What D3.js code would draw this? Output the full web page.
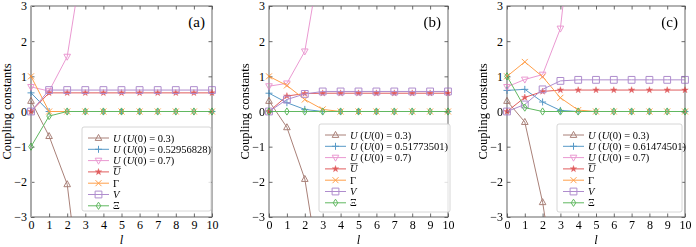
<!DOCTYPE html>
<html><head><meta charset="utf-8">
<script src="https://cdn.jsdelivr.net/npm/d3@7"></script>
<style>body{margin:0;background:#fff}svg{display:block}text{font-family:"Liberation Serif","Times New Roman",serif;fill:#000}</style>
</head><body>
<svg id="c" width="696" height="247"></svg>
<script>
// ---- data ----
const steps = [0,1,2,3,4,5,6,7,8,9,10];
const xTicks = [0,1,2,3,4,5,6,7,8,9,10];
const yTicks = [-3,-2,-1,0,1,2,3];
const panelLabels = ["(a)","(b)","(c)"];
const criticalU0 = ["0.52956828","0.51773501","0.61474501"];

// panel (a)
const aU03  = [0.3,-0.7,-2.07,-6.3];
const aUc   = [0.53,0,0,0,0,0,0,0,0,0,0];
const aU07  = [0.7,0.58,1.56,4.8];
const aUbar = [0,0.53,0.53,0.53,0.53,0.53,0.53,0.53,0.53,0.53,0.53];
const aGam  = [1.0,0,0,0,0,0,0,0,0,0,0];
const aV    = [0,0.61,0.61,0.61,0.61,0.61,0.61,0.61,0.61,0.61,0.61];
const aXi   = [-1.0,-0.13,0,0,0,0,0,0,0,0,0];
// panel (b)
const bU03  = [0.3,-0.45,-1.92,-5.1];
const bUc   = [0.52,0.25,0.06,0,0,0,0,0,0,0,0];
const bU07  = [0.72,0.8,1.71,4.7];
const bUbar = [0,0.44,0.51,0.52,0.52,0.52,0.52,0.52,0.52,0.52,0.52];
const bGam  = [1.0,0.74,0.34,0.06,0,0,0,0,0,0,0];
const bV    = [0,0.34,0.5,0.57,0.57,0.57,0.57,0.57,0.57,0.57,0.57];
const bXi   = [0,0,0,0,0,0,0,0,0,0,0];
// panel (c)
const cU03  = [0.3,-0.3,-2.58,-5.8];
const cUc   = [0.6,0.63,0.27,0.03,0,0,0,0,0,0,0];
const cU07  = [0.7,0.91,1.05,2.36,6.9];
const cUbar = [0,0.4,0.57,0.61,0.61,0.61,0.61,0.61,0.61,0.61,0.61];
const cGam  = [1.0,1.41,0.99,0.39,0.04,0,0,0,0,0,0];
const cV    = [0,0.2,0.63,0.87,0.9,0.9,0.9,0.9,0.9,0.9,0.9];
const cXi   = [1.0,0.11,0,0,0,0,0,0,0,0,0];

const seriesColors = ["#8c564b","#1f77b4","#e377c2","#d62728","#ff7f0e","#9467bd","#2ca02c"];
const seriesMarkers = ["tri","plus","trid","star","x","square","diamond"];

// ---- layout ----
const panels = [
  {x0:31, x1:212, data:[aU03,aUc,aU07,aUbar,aGam,aV,aXi], leg:{x0:82, x1:211, y0:127, y1:211}},
  {x0:269, x1:448, data:[bU03,bUc,bU07,bUbar,bGam,bV,bXi], leg:{x0:319, x1:450, y0:124, y1:212}},
  {x0:507, x1:685, data:[cU03,cUc,cU07,cUbar,cGam,cV,cXi], leg:{x0:557, x1:682, y0:124, y1:212}}
];
const plotTop = 6, plotBottom = 217;
const svg = d3.select("#c");

function markerPath(m){
  switch(m){
    case "tri": return "M0,-3.6L3.3,2.4L-3.3,2.4Z";
    case "trid": return "M0,3.6L3.3,-2.4L-3.3,-2.4Z";
    case "plus": return "M-3.5,0H3.5M0,-3.5V3.5";
    case "x": return "M-3,-3L3,3M-3,3L3,-3";
    case "square": return "M-3.4,-3.4H3.4V3.4H-3.4Z";
    case "diamond": return "M0,-3.6L2.3,0L0,3.6L-2.3,0Z";
    case "star": return d3.symbol(d3.symbolStar, 13)();
  }
}
function drawMarker(g, m, color, x, y){
  g.append("path").attr("d", markerPath(m)).attr("transform",`translate(${x},${y})`)
   .attr("fill", m==="star"?color:"none").attr("stroke", color).attr("stroke-width", m==="star"?0.4:1);
}

panels.forEach((p,pi)=>{
  const x = d3.scaleLinear().domain([0,10]).range([p.x0,p.x1]);
  const y = d3.scaleLinear().domain([-3,3]).range([plotBottom,plotTop]);
  const g = svg.append("g");
  const cid = "clip"+pi;
  svg.append("defs").append("clipPath").attr("id",cid).append("rect")
    .attr("x",p.x0-6).attr("y",plotTop).attr("width",p.x1-p.x0+12).attr("height",plotBottom-plotTop);

  // axes
  const axB = d3.axisBottom(x).tickValues(xTicks).tickFormat(d3.format("d")).tickSizeInner(-3.5).tickSizeOuter(0).tickPadding(3.5);
  const axL = d3.axisLeft(y).tickValues(yTicks).tickFormat(d=> d<0? "\u2212"+Math.abs(d) : String(d)).tickSizeInner(-3.5).tickSizeOuter(0).tickPadding(4);
  const axT = d3.axisTop(x).tickValues(xTicks).tickFormat("").tickSizeInner(-3.5).tickSizeOuter(0);
  const axR = d3.axisRight(y).tickValues(yTicks).tickFormat("").tickSizeInner(-3.5).tickSizeOuter(0);
  g.append("g").attr("transform",`translate(0,${plotBottom})`).call(axB);
  g.append("g").attr("transform",`translate(${p.x0},0)`).call(axL);
  g.append("g").attr("transform",`translate(0,${plotTop})`).call(axT);
  g.append("g").attr("transform",`translate(${p.x1},0)`).call(axR);
  g.selectAll(".domain").remove();
  g.selectAll(".tick line").attr("stroke","#444").attr("stroke-width",0.8);
  g.selectAll(".tick text").attr("font-size","12px").attr("font-family",'"Liberation Serif",serif').attr("fill","#000");
  g.append("rect").attr("x",p.x0).attr("y",plotTop).attr("width",p.x1-p.x0).attr("height",plotBottom-plotTop)
    .attr("fill","none").attr("stroke","#555").attr("stroke-width",0.9);
  if(pi===0){
    g.append("line").attr("x1",p.x0).attr("x2",p.x0).attr("y1",plotTop).attr("y2",plotBottom)
      .attr("stroke","#aaa").attr("stroke-width",2);
  }

  // labels
  g.append("text").attr("transform",`translate(${p.x0-20},${(plotTop+plotBottom)/2}) rotate(-90)`)
    .attr("text-anchor","middle").attr("font-size","12.5px").text("Coupling constants");
  g.append("text").attr("x",(p.x0+p.x1)/2).attr("y",244).attr("text-anchor","middle")
    .attr("font-size","12.5px").attr("font-style","italic").text("l");
  g.append("text").attr("x",p.x1-7).attr("y",27).attr("text-anchor","end").attr("font-size","15px").text(panelLabels[pi]);

  // series
  const line = d3.line().x((d,i)=>x(steps[i])).y(d=>y(d));
  const sg = g.append("g").attr("opacity",0.75);
  p.data.forEach((vals,si)=>{
    const col = seriesColors[si];
    sg.append("path").datum(vals).attr("d",line).attr("fill","none").attr("stroke",col)
      .attr("stroke-width",1).attr("clip-path",`url(#${cid})`);
    const mg = sg.append("g").attr("clip-path",`url(#${cid})`);
    vals.forEach((v,i)=>{ if(v>=-3.1 && v<=3.1) drawMarker(mg, seriesMarkers[si], col, x(steps[i]), y(v)); });
  });

  // legend
  const L = p.leg;
  const lg = g.append("g");
  lg.append("rect").attr("x",L.x0).attr("y",L.y0).attr("width",L.x1-L.x0).attr("height",L.y1-L.y0)
    .attr("rx",2).attr("fill","#fff").attr("fill-opacity",0.8).attr("stroke","#ccc").attr("stroke-width",0.8);
  const rowY = i => L.y0 + 11 + i*11.3;
  const names = [
    ["U"," (","U","(0) = 0.3)"],
    ["U"," (","U","(0) = "+criticalU0[pi]+")"],
    ["U"," (","U","(0) = 0.7)"],
    ["Ubar"],["Γ"],["V"],["Ξ"]
  ];
  names.forEach((nm,i)=>{
    const ly = rowY(i), col = seriesColors[i];
    const eg = lg.append("g").attr("opacity",0.75);
    eg.append("line").attr("x1",L.x0+6).attr("x2",L.x0+27).attr("y1",ly).attr("y2",ly).attr("stroke",col).attr("stroke-width",1);
    drawMarker(eg, seriesMarkers[i], col, L.x0+16.5, ly);
    const t = lg.append("text").attr("x",L.x0+31).attr("y",ly+3.5).attr("font-size","10.5px");
    if(nm[0]==="Ubar"){
      t.append("tspan").attr("font-style","italic").text("U");
      lg.append("line").attr("x1",L.x0+31.3).attr("x2",L.x0+38.5).attr("y1",ly-5.2).attr("y2",ly-5.2).attr("stroke","#000").attr("stroke-width",0.7);
    } else if(nm.length===1){
      t.append("tspan").attr("font-style", nm[0]==="V"?"italic":"normal").text(nm[0]);
    } else {
      t.append("tspan").attr("font-style","italic").text(nm[0]);
      t.append("tspan").text(nm[1]);
      t.append("tspan").attr("font-style","italic").text(nm[2]);
      t.append("tspan").text(nm[3]);
    }
  });
});
</script>
</body></html>
